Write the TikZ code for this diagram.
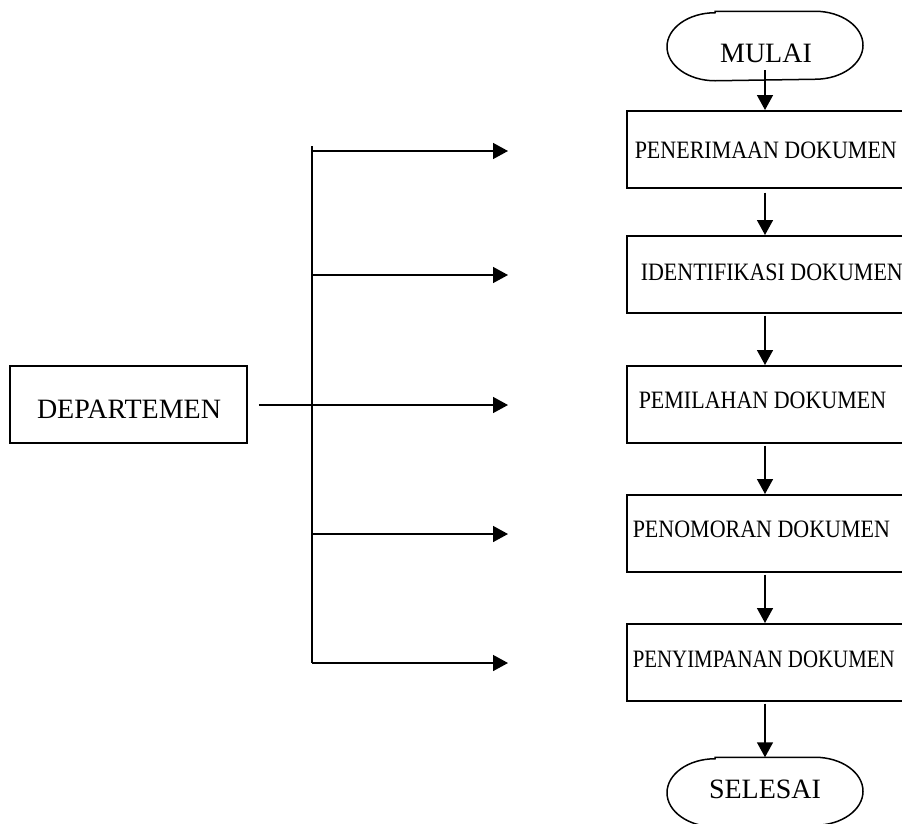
\documentclass[tikz,border=0pt]{standalone}
\usepackage{fontspec}
\setmainfont{Liberation Serif}
\newfontfamily\boxfont[FakeStretch=0.88]{Liberation Serif}
\newfontfamily\boxfontb[FakeStretch=0.835]{Liberation Serif}
\usetikzlibrary{arrows.meta}
\begin{document}
\begin{tikzpicture}[x=1pt,y=-1pt,line width=1.5pt,
  arr/.style={-{Triangle[length=15pt,width=16pt]}},
  proc/.style={draw, minimum width=290pt, minimum height=77pt, anchor=north west, inner sep=0pt},
  ptext/.style={anchor=base west, inner sep=0pt, font=\boxfont\fontsize{25pt}{27pt}\selectfont},
  btext/.style={anchor=base, inner sep=0pt, font=\fontsize{28pt}{30pt}\selectfont},
  term/.style={minimum width=196pt, minimum height=68pt, inner sep=0pt}]
\useasboundingbox (0,0) rectangle (902,823);
\clip (0,0) rectangle (902,823);
% terminals
\node[term] (start) at (765,46) {};
\node[term] (stop) at (765,792) {};
\foreach \t in {start,stop}{
  \draw ([xshift=-50pt]\t.north) -- ([xshift=50pt]\t.north)
    arc[start angle=90,end angle=-90,x radius=48pt,y radius=34pt]
    -- ([xshift=-50pt]\t.south)
    arc[start angle=270,end angle=90,x radius=48pt,y radius=34pt] -- cycle;
}
\node[btext] (startlbl) at (766,62) {MULAI};
\node[btext] (stoplbl) at (765,798) {SELESAI};
% process boxes
\node[proc] (b1) at (626,110) {};
\node[proc] (b2) at (626,235) {};
\node[proc] (b3) at (626,365) {};
\node[proc] (b4) at (626,494) {};
\node[proc] (b5) at (626,623) {};
\node[ptext] (t1) at (634,158) {PENERIMAAN DOKUMEN};
\node[ptext] (t2) at (640,280) {IDENTIFIKASI DOKUMEN};
\node[ptext] (t3) at (638,408) {PEMILAHAN DOKUMEN};
\node[ptext] (t4) at (632,537) {PENOMORAN DOKUMEN};
\node[ptext, font=\boxfontb\fontsize{25pt}{27pt}\selectfont] (t5) at (632,667) {PENYIMPANAN DOKUMEN};
% vertical flow
\draw[arr] ([yshift=-24pt]start.center) -- (start.center |- b1.north);
\draw[arr,shorten <=4pt] (start.center |- b1.south) -- (start.center |- b2.north);
\draw[arr,shorten <=2pt] (start.center |- b2.south) -- (start.center |- b3.north);
\draw[arr,shorten <=2pt] (start.center |- b3.south) -- (start.center |- b4.north);
\draw[arr,shorten <=2pt] (start.center |- b4.south) -- (start.center |- b5.north);
\draw[arr,shorten <=2pt] (start.center |- b5.south) -- (stop.north);
% departemen
\node[draw, minimum width=237pt, minimum height=77pt, inner sep=0pt] (dept) at (128.5,404.5) {};
\node[btext] (deptlbl) at (129,418) {DEPARTEMEN};
\coordinate (bustop) at (312,146);
\coordinate (busbot) at (312,663);
\coordinate (a1) at (508,151);
\coordinate (a2) at (508,275);
\coordinate (a3) at (508,405);
\coordinate (a4) at (508,534);
\coordinate (a5) at (508,663);
\draw (bustop) -- (busbot);
\draw[arr,shorten <=11pt] (dept.east |- a3) -- (a3);
\foreach \a in {a1,a2,a4,a5}{
  \draw[arr] (bustop |- \a) -- (\a);
}
\end{tikzpicture}
\end{document}
